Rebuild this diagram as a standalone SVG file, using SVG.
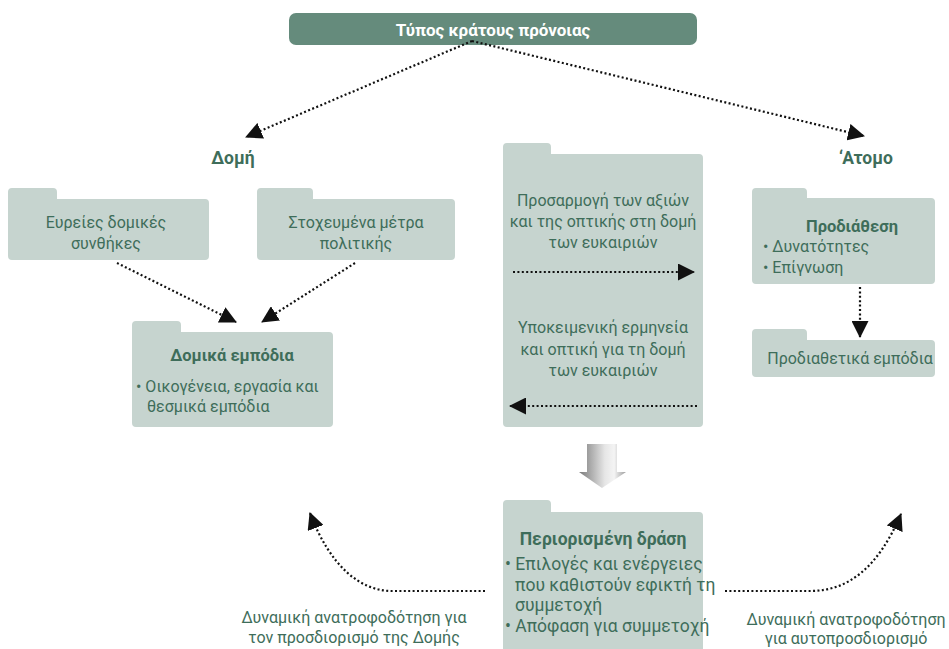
<svg xmlns="http://www.w3.org/2000/svg" width="949" height="649" viewBox="0 0 949 649">
<defs>
<style>
.f{fill:#c6d4cf}
.t{font-family:Roboto,"Liberation Sans",sans-serif;font-size:16px;fill:#3e6d5a}
.c{text-anchor:middle}
.b{font-weight:bold}
.big{font-size:17.5px}
.dot{fill:none;stroke:#111;stroke-width:2.2;stroke-dasharray:2 2.4}
</style>
<marker id="ah" markerUnits="userSpaceOnUse" markerWidth="17" markerHeight="17" viewBox="0 0 17 17" refX="16" refY="8.5" orient="auto">
<path d="M0,0 L17,8.5 L0,17 Z" fill="#111"/>
</marker>
<linearGradient id="gr" x1="0" y1="0" x2="1" y2="0">
<stop offset="0" stop-color="#7a7a7a"/>
<stop offset="0.55" stop-color="#e6e6e6"/>
<stop offset="0.75" stop-color="#f4f4f4"/>
<stop offset="1" stop-color="#9c9c9c"/>
</linearGradient>
</defs>
<rect width="949" height="649" fill="#fff"/>

<g id="title">
<rect x="289" y="13" width="408" height="32" rx="7" fill="#658b7c"/>
<text class="t b c" x="493" y="36" style="fill:#fff;font-size:17px">Τύπος κράτους πρόνοιας</text>
</g>

<g id="label-domi"><text class="t b c" x="233" y="164" style="font-size:17.5px">Δομή</text></g>
<g id="label-atomo"><text class="t b c" x="866" y="164" style="font-size:17.5px">‘Ατομο</text></g>

<g id="evreies">
<path class="f" d="M8,192 Q8,188 12,188 H53 Q57,188 57,192 V199 H205 Q209,199 209,203 V256 Q209,260 205,260 H12 Q8,260 8,256 Z"/>
<text class="t c" x="106" y="228">Ευρείες δομικές</text>
<text class="t c" x="106" y="249">συνθήκες</text>
</g>

<g id="stoxevmena">
<path class="f" d="M257,192 Q257,188 261,188 H309 Q313,188 313,192 V199 H451 Q455,199 455,203 V256 Q455,260 451,260 H261 Q257,260 257,256 Z"/>
<text class="t c" x="356" y="228">Στοχευμένα μέτρα</text>
<text class="t c" x="356" y="249">πολιτικής</text>
</g>

<g id="domika-empodia">
<path class="f" d="M132,325 Q132,321 136,321 H177 Q181,321 181,325 V332 H329 Q333,332 333,336 V423 Q333,427 329,427 H136 Q132,427 132,423 Z"/>
<text class="t b c" x="232" y="361" style="font-size:16.5px">Δομικά εμπόδια</text>
<text class="t" x="136" y="392">• Οικογένεια, εργασία και</text>
<text class="t" x="147" y="412">θεσμικά εμπόδια</text>
</g>

<g id="middle">
<path class="f" d="M503,147 Q503,143 507,143 H547 Q551,143 551,147 V154 H699 Q703,154 703,158 V423 Q703,427 699,427 H507 Q503,427 503,423 Z"/>
<text class="t c" x="603" y="206">Προσαρμογή των αξιών</text>
<text class="t c" x="603" y="227">και της οπτικής στη δομή</text>
<text class="t c" x="603" y="248">των ευκαιριών</text>
<text class="t c" x="603" y="333">Υποκειμενική ερμηνεία</text>
<text class="t c" x="603" y="355">και οπτική για τη δομή</text>
<text class="t c" x="603" y="376">των ευκαιριών</text>
</g>

<g id="prodiathesi">
<path class="f" d="M752,192 Q752,188 756,188 H803 Q807,188 807,192 V198 H931 Q935,198 935,202 V280 Q935,284 931,284 H756 Q752,284 752,280 Z"/>
<text class="t b c" x="852" y="232" style="font-size:16.5px">Προδιάθεση</text>
<text class="t" x="763" y="252">• Δυνατότητες</text>
<text class="t" x="763" y="273">• Επίγνωση</text>
</g>

<g id="prodiathetika">
<path class="f" d="M752,333 Q752,329 756,329 H803 Q807,329 807,333 V340 H931 Q935,340 935,344 V373 Q935,377 931,377 H756 Q752,377 752,373 Z"/>
<text class="t c" x="850" y="364">Προδιαθετικά εμπόδια</text>
</g>

<g id="big-arrow">
<path d="M587,444 H617 V472 H626 L602,488 L579,472 H587 Z" fill="url(#gr)"/>
</g>

<g id="periorismeni">
<path class="f" d="M503,504 Q503,500 507,500 H547 Q551,500 551,504 V512 H699 Q703,512 703,516 V660 H503 Z"/>
<text class="t b c big" x="603" y="545">Περιορισμένη δράση</text>
<text class="t big" x="505" y="570">• Επιλογές και ενέργειες</text>
<text class="t big" x="515" y="591">που καθιστούν εφικτή τη</text>
<text class="t big" x="515" y="611">συμμετοχή</text>
<text class="t big" x="505" y="632">• Απόφαση για συμμετοχή</text>
</g>

<g id="feedback-labels">
<text class="t c" x="354" y="623">Δυναμική ανατροφοδότηση για</text>
<text class="t c" x="354" y="643">τον προσδιορισμό της Δομής</text>
<text class="t c" x="846" y="625">Δυναμική ανατροφοδότηση</text>
<text class="t c" x="846" y="644">για αυτοπροσδιορισμό</text>
</g>

<g id="connectors">
<path class="dot" d="M472,41 L246,137" marker-end="url(#ah)"/>
<path class="dot" d="M472,41 L864,136" marker-end="url(#ah)"/>
<path class="dot" d="M117,263 L236,322" marker-end="url(#ah)"/>
<path class="dot" d="M355,263 L262,322" marker-end="url(#ah)"/>
<path class="dot" d="M513,272 L694,272" marker-end="url(#ah)"/>
<path class="dot" d="M697,406 L510,406" marker-end="url(#ah)"/>
<path class="dot" d="M860,287 L860,337" marker-end="url(#ah)"/>
<path class="dot" d="M485,591 H392 C360,591 330,566 310,513" marker-end="url(#ah)"/>
<path class="dot" d="M725,591 H810 C848,591 878,568 901,514" marker-end="url(#ah)"/>
</g>
</svg>
